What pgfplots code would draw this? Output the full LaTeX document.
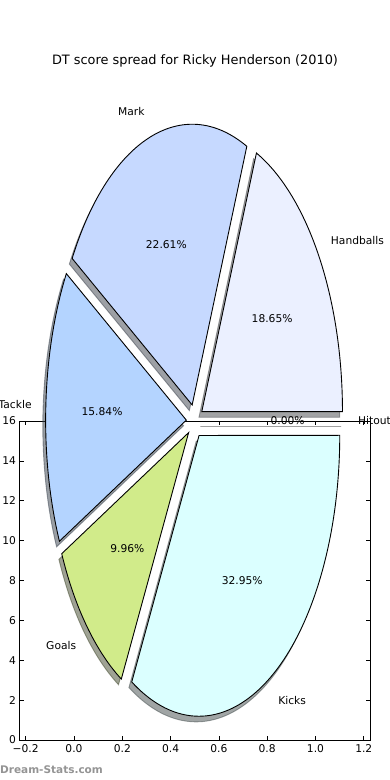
\documentclass[border=0pt]{standalone}
\usepackage{fontspec}
\setmainfont{DejaVu Sans}
\usepackage{pgfplots}
\usepackage{pgfplotstable}
\pgfplotsset{compat=1.18}

\definecolor{c0}{RGB}{255,255,255}
\definecolor{c1}{RGB}{235,240,255}
\definecolor{c2}{RGB}{198,217,255}
\definecolor{c3}{RGB}{180,212,255}
\definecolor{c4}{RGB}{209,235,138}
\definecolor{c5}{RGB}{219,255,255}
\colorlet{sh0}{black!70!c0}
\colorlet{sh1}{black!70!c1}
\colorlet{sh2}{black!70!c2}
\colorlet{sh3}{black!70!c3}
\colorlet{sh4}{black!70!c4}
\colorlet{sh5}{black!70!c5}

\pgfplotstableread{
label pct
Hitout 0.00
Handballs 18.65
Mark 22.61
Tackle 15.84
Goals 9.96
Kicks 32.95
}\piedata

% pie geometry in axis units
\def\pcx{0.5}
\def\pcy{16}
\def\prx{0.5826}
\def\pry{14.08}
\def\pe{0.06}
\newcommand\pv[2]{\csname p#1#2\endcsname}
\newcommand\lblfont{\fontsize{10.7bp}{12.8bp}\selectfont}

\begin{document}
\begin{tikzpicture}
\xdef\cum{0}
\foreach \i in {0,...,5}{%
  \pgfplotstablegetelem{\i}{pct}\of\piedata \let\p\pgfplotsretval
  \expandafter\xdef\csname ppc\i\endcsname{\p}%
  \pgfplotstablegetelem{\i}{label}\of\piedata
  \expandafter\xdef\csname plab\i\endcsname{\pgfplotsretval}%
  \pgfmathsetmacro\a{\cum*3.6}%
  \pgfmathsetmacro\b{(\cum+\p)*3.6}%
  \pgfmathsetmacro\m{(\a+\b)/2}%
  \pgfmathsetmacro\ax{\pcx+\pe*\prx*cos(\m)}%
  \pgfmathsetmacro\ay{\pcy+\pe*\pry*sin(\m)}%
  \pgfmathsetmacro\sx{\ax+\prx*cos(\a)}%
  \pgfmathsetmacro\sy{\ay+\pry*sin(\a)}%
  \pgfmathsetmacro\tx{\ax+0.6*\prx*cos(\m)}%
  \pgfmathsetmacro\ty{\ay+0.6*\pry*sin(\m)}%
  \pgfmathsetmacro\lx{\ax+1.1*\prx*cos(\m)}%
  \pgfmathsetmacro\ly{\ay+1.1*\pry*sin(\m)}%
  \pgfmathsetmacro\shax{\ax-0.02*\prx}%
  \pgfmathsetmacro\shay{\ay-0.02*\pry}%
  \pgfmathsetmacro\shsx{\sx-0.02*\prx}%
  \pgfmathsetmacro\shsy{\sy-0.02*\pry}%
  \expandafter\xdef\csname pa\i\endcsname{\a}%
  \expandafter\xdef\csname pb\i\endcsname{\b}%
  \expandafter\xdef\csname pax\i\endcsname{\ax}%
  \expandafter\xdef\csname pay\i\endcsname{\ay}%
  \expandafter\xdef\csname psx\i\endcsname{\sx}%
  \expandafter\xdef\csname psy\i\endcsname{\sy}%
  \expandafter\xdef\csname ptx\i\endcsname{\tx}%
  \expandafter\xdef\csname pty\i\endcsname{\ty}%
  \expandafter\xdef\csname plx\i\endcsname{\lx}%
  \expandafter\xdef\csname ply\i\endcsname{\ly}%
  \expandafter\xdef\csname phax\i\endcsname{\shax}%
  \expandafter\xdef\csname phay\i\endcsname{\shay}%
  \expandafter\xdef\csname phsx\i\endcsname{\shsx}%
  \expandafter\xdef\csname phsy\i\endcsname{\shsy}%
  \pgfmathparse{cos(\m)>0?1:0}%
  \ifdim\pgfmathresult pt>0.5pt
    \expandafter\xdef\csname pan\i\endcsname{west}%
  \else
    \expandafter\xdef\csname pan\i\endcsname{east}%
  \fi
  \pgfmathsetmacro\c{\cum+\p}%
  \xdef\cum{\c}%
}
\begin{axis}[
  set layers,
  scale only axis,
  width=350.5bp, height=319bp,
  at={(19.5bp,40bp)}, anchor=south west,
  xmin=-0.2257, xmax=1.2257, ymin=0, ymax=16,
  xtick={-0.2,0,0.2,0.4,0.6,0.8,1.0,1.2},
  xticklabels={−0.2,0.0,0.2,0.4,0.6,0.8,1.0,1.2},
  ytick={0,2,4,6,8,10,12,14,16},
  tick align=inside,
  major tick length=4.3bp,
  axis line style={line width=0.9bp},
  tick style={black, line width=0.6bp},
  /pgf/number format/assume math mode=true,
  ticklabel style={font=\lblfont},
  xticklabel style={yshift=-1.5bp},
  clip=false,
]
% shadows
\pgfplotsinvokeforeach{0,...,5}{%
  \edef\tmp{\noexpand\draw[fill=sh#1, draw=sh#1, opacity=0.5, line width=0.9bp]
    (axis cs:\pv{hax}{#1},\pv{hay}{#1}) -- (axis cs:\pv{hsx}{#1},\pv{hsy}{#1})
    arc[start angle=\pv{a}{#1}, end angle=\pv{b}{#1}, x radius=\prx, y radius=\pry] -- cycle;}%
  \tmp
}
% wedges
\pgfplotsinvokeforeach{0,...,5}{%
  \edef\tmp{\noexpand\draw[fill=c#1, draw=black, line width=0.9bp]
    (axis cs:\pv{ax}{#1},\pv{ay}{#1}) -- (axis cs:\pv{sx}{#1},\pv{sy}{#1})
    arc[start angle=\pv{a}{#1}, end angle=\pv{b}{#1}, x radius=\prx, y radius=\pry] -- cycle;}%
  \tmp
}
% texts
\pgfplotsinvokeforeach{0,...,5}{%
  \edef\tmp{\noexpand\node[anchor=\pv{an}{#1}, inner sep=0pt, font=\noexpand\lblfont]
    at (axis cs:\pv{lx}{#1},\pv{ly}{#1}) {\pv{lab}{#1}};
    \noexpand\node[anchor=center, inner sep=0pt, font=\noexpand\lblfont]
    at (axis cs:\pv{tx}{#1},\pv{ty}{#1}) {\pv{pc}{#1}\noexpand\%};}%
  \tmp
}
\end{axis}
\node[font=\fontsize{12.9bp}{15bp}\selectfont, inner sep=0pt] at (195bp,719bp)
  {DT score spread for Ricky Henderson (2010)};
\node[anchor=west, inner sep=0pt, text=black!42, font=\bfseries\fontsize{10.5bp}{12bp}\selectfont]
  at (0bp,10bp) {Dream-Stats.com};
\pgfresetboundingbox
\path (0,0) rectangle (390bp,780bp);
\end{tikzpicture}
\end{document}
